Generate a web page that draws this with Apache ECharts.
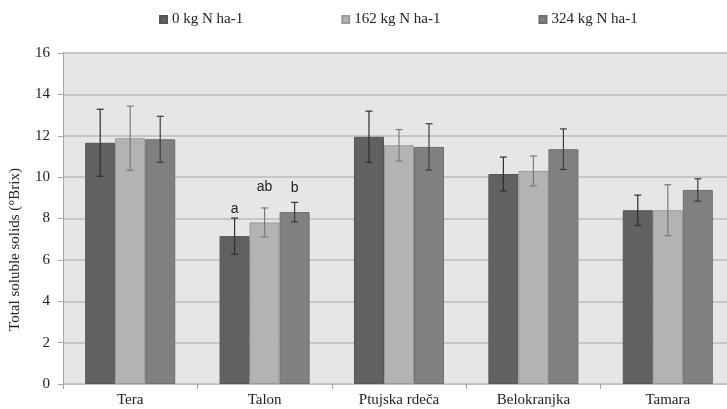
<!DOCTYPE html>
<html>
<head>
<meta charset="utf-8">
<script src="https://cdn.jsdelivr.net/npm/echarts@6/dist/echarts.min.js"></script>
<style>
html,body{margin:0;padding:0;background:#fff;}
#chart{width:727px;height:409px;}
</style>
</head>
<body>
<div id="chart"></div>
<script>
// ---- data ----
var categories = ['Tera', 'Talon', 'Ptujska rdeča', 'Belokranjka', 'Tamara'];
var seriesNames = ['0 kg N ha-1', '162 kg N ha-1', '324 kg N ha-1'];
var values0   = [11.66, 7.15, 11.95, 10.15, 8.40];
var values162 = [11.88, 7.81, 11.54, 10.30, 8.40];
var values324 = [11.83, 8.31, 11.46, 11.35, 9.38];
var err0   = [1.62, 0.87, 1.24, 0.82, 0.73];
var err162 = [1.55, 0.70, 0.76, 0.72, 1.23];
var err324 = [1.11, 0.47, 1.12, 0.98, 0.54];
var letterCategory = 'Talon';
var letters = ['a', 'ab', 'b'];
var yTicks = [0, 2, 4, 6, 8, 10, 12, 14, 16];

// ---- styles ----
var serif = '"Liberation Serif", "Times New Roman", serif';
var barColors = ['#616161', '#b3b3b3', '#808080'];
var barBorders = ['#555555', '#9a9a9a', '#6e6e6e'];
var errColors = ['#2e2e2e', '#7a7a7a', '#3c3c3c'];
var letterLift = [9, 21, 14];
var gapRatio = 0.33;

var allValues = [values0, values162, values324];
var allErr = [err0, err162, err324];

var chart = echarts.init(document.getElementById('chart'), null, {renderer: 'canvas'});

var series = [];
allValues.forEach(function (vals, s) {
  series.push({
    name: seriesNames[s],
    type: 'bar',
    data: vals,
    barGap: '0%',
    barCategoryGap: (gapRatio * 100) + '%',
    itemStyle: {color: barColors[s], borderColor: barBorders[s], borderWidth: 1},
    z: 2
  });
});

allValues.forEach(function (vals, s) {
  var errData = vals.map(function (v, i) {
    var lab = (categories[i] === letterCategory) ? letters[s] : '';
    return [i, v - allErr[s][i], v + allErr[s][i], lab];
  });
  series.push({
    type: 'custom',
    name: 'err' + s,
    data: errData,
    z: 5,
    silent: true,
    encode: {x: 0, y: [1, 2]},
    renderItem: function (params, api) {
      var idx = api.value(0);
      var band = api.size([1, 0])[0];
      var bw = band * (1 - gapRatio) / 3;
      var cx = api.coord([idx, 0])[0] + (s - 1) * bw;
      var lo = api.coord([idx, api.value(1)])[1];
      var hi = api.coord([idx, api.value(2)])[1];
      var cap = 3.5;
      var st = {stroke: errColors[s], lineWidth: 1.2};
      var children = [
        {type: 'line', shape: {x1: cx, y1: lo, x2: cx, y2: hi}, style: st},
        {type: 'line', shape: {x1: cx - cap, y1: lo, x2: cx + cap, y2: lo}, style: st},
        {type: 'line', shape: {x1: cx - cap, y1: hi, x2: cx + cap, y2: hi}, style: st}
      ];
      var lab = api.value(3);
      if (lab) {
        children.push({
          type: 'text',
          style: {
            text: lab, x: cx, y: hi - letterLift[s],
            align: 'center', verticalAlign: 'middle',
            font: '14px "Liberation Sans", Arial, sans-serif',
            fill: '#222'
          }
        });
      }
      return {type: 'group', children: children};
    }
  });
});

chart.setOption({
  animation: false,
  backgroundColor: '#ffffff',
  legend: {
    data: seriesNames,
    top: 7,
    left: 154,
    icon: 'rect',
    itemWidth: 7,
    itemHeight: 7,
    itemGap: 98,
    textStyle: {fontFamily: serif, fontSize: 15, color: '#222'}
  },
  grid: {
    left: 63, right: -8, top: 53, bottom: 25,
    show: true, backgroundColor: '#e6e6e6', borderWidth: 0,
    containLabel: false,
    outerBoundsMode: 'none'
  },
  xAxis: {
    type: 'category',
    data: categories,
    axisLine: {show: true, lineStyle: {color: '#bdbdbd', width: 1}},
    axisTick: {show: true, length: 5, lineStyle: {color: '#a0a0a0'}},
    axisLabel: {fontFamily: serif, fontSize: 15, color: '#222', margin: 9},
    splitLine: {show: false}
  },
  yAxis: {
    type: 'value',
    min: yTicks[0],
    max: yTicks[yTicks.length - 1],
    interval: yTicks[1] - yTicks[0],
    name: 'Total soluble solids (°Brix)',
    nameLocation: 'middle',
    nameGap: 40,
    nameTextStyle: {fontFamily: serif, fontSize: 15, color: '#222', padding: [0, 62, 0, 0]},
    axisLine: {show: true, lineStyle: {color: '#a6a6a6', width: 1}},
    axisTick: {show: true, length: 5, lineStyle: {color: '#a6a6a6'}},
    axisLabel: {fontFamily: serif, fontSize: 15, color: '#222', margin: 13},
    splitLine: {show: true, lineStyle: {color: '#c6c6c6', width: 2}}
  },
  series: series
});
</script>
</body>
</html>
